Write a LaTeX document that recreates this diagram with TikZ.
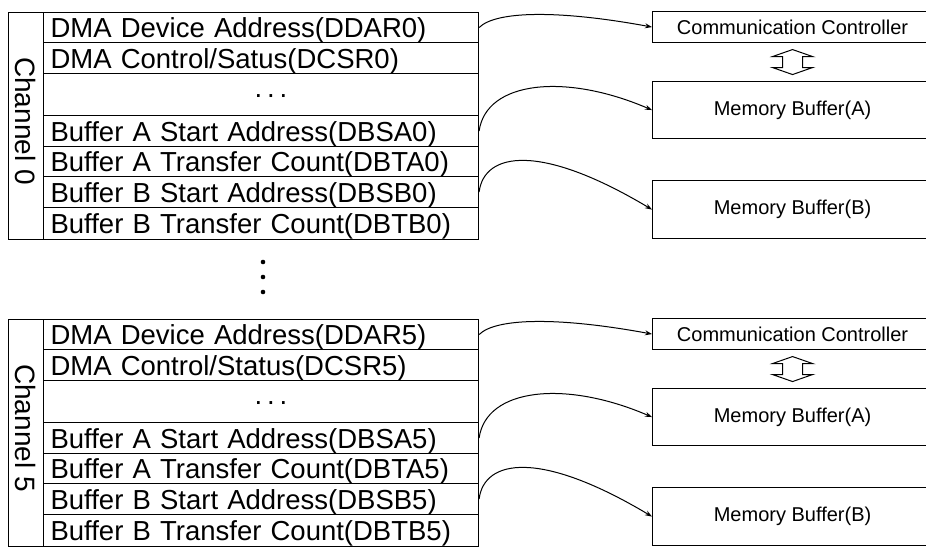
\documentclass[tikz,border=0pt]{standalone}
\usepackage{fontspec}
\setmainfont{Liberation Sans}
\usetikzlibrary{arrows.meta,calc}
\tikzset{
  reg/.style={draw, line width=1.1pt, anchor=north west, minimum width=435pt,
    inner xsep=7pt, inner ysep=0pt, text width=421pt, align=left,
    text height=20pt, text depth=0pt, font=\fontsize{27.5}{30}\selectfont},
  chan/.style={draw, line width=1.1pt, anchor=north west, minimum width=35pt,
    minimum height=227pt, inner sep=0pt},
  chlabel/.style={rotate=-90, font=\fontsize{28}{30}\selectfont, inner sep=0pt},
  target/.style={draw, line width=1.1pt, anchor=north west, minimum width=280pt,
    inner sep=0pt, font=\fontsize{20}{22}\selectfont},
  link/.style={line width=1pt, -{Stealth[length=7pt,width=5pt]}},
  dblarrow/.style={line width=1pt, line join=miter},
  ellip/.style={font=\fontsize{27.5}{30}\selectfont, inner sep=0pt, anchor=base},
  vdot/.style={circle, fill, inner sep=0pt, minimum size=4.6pt},
}
\newcommand\chblock[3]{%
  \node[chan] (ch#1) at (8,12) {};
  \node[chlabel] (chl#1) at (25.5,121) {Channel #2};
  \node[reg, minimum height=30pt] (dar#1) at (43,12) {DMA Device Address(DDAR#2)};
  \node[reg, minimum height=31pt] (dcs#1) at (43,42) {DMA Control/#3(DCSR#2)};
  \node[reg, minimum height=42pt] (res#1) at (43,73) {};
  \node[ellip] (dots#1) at (271,103.5) {·\hspace{3.3pt}·\hspace{3.3pt}·};
  \node[reg, minimum height=31pt] (dsa#1) at (43,115) {Buffer A Start Address(DBSA#2)};
  \node[reg, minimum height=30pt] (dta#1) at (43,146) {Buffer A Transfer Count(DBTA#2)};
  \node[reg, minimum height=31pt] (dsb#1) at (43,176) {Buffer B Start Address(DBSB#2)};
  \node[reg, minimum height=32pt] (dtb#1) at (43,207) {Buffer B Transfer Count(DBTB#2)};
  \node[target, minimum height=31pt] (cc#1) at (652,11) {Communication Controller};
  \node[target, minimum height=57pt] (mba#1) at (652,81) {Memory Buffer(A)};
  \node[target, minimum height=58pt] (mbb#1) at (652,180) {Memory Buffer(B)};
  \coordinate (dm#1) at ($(cc#1.south)!0.5!(mba#1.north)$);
  \draw[dblarrow] ($(dm#1)+(0,-12.5)$) -- ++(20,7) -- ++(-10,0) -- ++(0,11) -- ++(10,0)
    -- ++(-20,7) -- ++(-20,-7) -- ++(10,0) -- ++(0,-11) -- ++(-10,0) -- cycle;
  \draw[link] (dar#1.east) .. controls +(17,-17) and +(-92,-17) .. (cc#1.west);
  \draw[link] (dsa#1.east) .. controls +(7,-50) and +(-87,-37.5) .. (mba#1.west);
  \draw[link] (dsb#1.east) .. controls +(5,-40) and +(-112,-67) .. (mbb#1.west);
}
\begin{document}
\begin{tikzpicture}[x=1pt,y=-1pt]
\useasboundingbox (0,0) rectangle (926,547);
\begin{scope}
\chblock{a}{0}{Satus}
\end{scope}
\begin{scope}[shift={(0,307)}]
\chblock{b}{5}{Status}
\end{scope}
\node[vdot] (vd1) at (263,262) {};
\node[vdot] (vd2) at (263,277) {};
\node[vdot] (vd3) at (263,292) {};
\end{tikzpicture}
\end{document}
